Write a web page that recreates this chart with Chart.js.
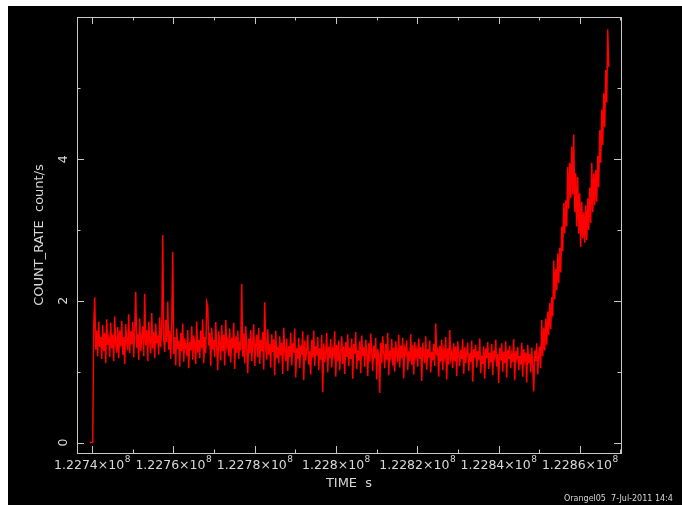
<!DOCTYPE html>
<html>
<head>
<meta charset="utf-8">
<script src="https://cdn.jsdelivr.net/npm/chart.js@4.4.1/dist/chart.umd.min.js"></script>
<style>
  html, body { margin: 0; padding: 0; background: #fff; overflow: hidden; }
  canvas { display: block; }
</style>
</head>
<body>
<canvas id="lc" width="682" height="505"></canvas>
<script>
// Light curve: one rate per time bin, bins of constant width starting at binStart
const binStart = 122739440;   // s
const binSize = 246;          // s
const countRate = [
  0, 0, 0, 0, 1.62, 2.05, 1.31, 1.58, 1.22, 1.71,
  1.35, 1.49, 1.18, 1.66, 1.29, 1.55, 1.12, 1.74, 1.38, 1.47,
  1.21, 1.69, 1.33, 1.52, 1.15, 1.78, 1.41, 1.27, 1.63, 1.19,
  1.58, 1.36, 1.72, 1.24, 1.49, 1.11, 1.67, 1.43, 1.30, 1.81,
  1.26, 1.57, 1.39, 1.70, 1.20, 1.62, 2.13, 1.34, 1.53, 1.17,
  1.75, 1.29, 1.48, 1.64, 1.22, 2.10, 1.37, 1.59, 1.15, 1.71,
  1.44, 1.26, 1.83, 1.33, 1.56, 1.19, 1.68, 1.40, 1.51, 1.24,
  1.77, 1.35, 1.62, 2.93, 1.46, 1.28, 1.73, 1.42, 1.99, 1.31,
  1.58, 1.18, 1.66, 2.69, 1.25, 1.49, 1.09, 1.61, 1.32, 1.44,
  1.07, 1.55, 1.29, 1.68, 1.14, 1.47, 1.36, 1.22, 1.59, 1.05,
  1.42, 1.30, 1.64, 1.17, 1.51, 1.38, 1.11, 1.71, 1.27, 1.45,
  1.19, 1.58, 1.33, 1.74, 1.12, 1.49, 1.26, 1.98, 1.92, 1.37,
  1.55, 1.08, 1.62, 1.31, 1.45, 1.21, 1.70, 1.35, 1.02, 1.57,
  1.40, 1.16, 1.66, 1.29, 1.52, 1.09, 1.73, 1.36, 1.44, 1.22,
  1.61, 1.13, 1.48, 1.33, 1.69, 1.04, 1.50, 1.27, 1.58, 1.18,
  1.43, 1.30, 2.24, 1.21, 1.54, 1.12, 1.64, 1.35, 0.98, 1.47,
  1.26, 1.59, 1.15, 1.41, 1.67, 1.08, 1.38, 1.52, 1.20, 1.62,
  1.11, 1.45, 1.29, 1.56, 1.03, 1.98, 1.34, 1.17, 1.60, 1.24,
  1.39, 1.06, 1.53, 1.28, 1.46, 0.95, 1.58, 1.19, 1.35, 1.12,
  1.50, 1.23, 1.41, 0.97, 1.62, 1.30, 1.15, 1.47, 1.01, 1.36,
  1.21, 1.55, 1.09, 1.40, 1.27, 1.61, 0.92, 1.33, 1.18, 1.48,
  1.05, 1.37, 1.24, 1.57, 0.88, 1.44, 1.16, 1.31, 1.52, 1.10,
  1.29, 0.96, 1.45, 1.20, 1.58, 1.08, 1.36, 1.23, 1.49, 1.02,
  1.33, 1.17, 1.52, 0.71, 1.40, 1.13, 1.27, 1.55, 0.99, 1.35,
  1.19, 1.46, 1.06, 1.31, 1.24, 1.57, 0.93, 1.38, 1.15, 1.44,
  1.02, 1.29, 1.50, 1.11, 1.36, 0.97, 1.42, 1.21, 1.53, 1.08,
  1.34, 1.18, 1.47, 0.90, 1.39, 1.25, 1.56, 1.04, 1.30, 1.16,
  1.43, 0.98, 1.51, 1.22, 1.35, 1.07, 1.45, 1.28, 0.94, 1.40,
  1.14, 1.54, 1.26, 1.01, 1.37, 1.19, 1.48, 0.89, 1.32, 1.23,
  0.70, 1.41, 1.12, 1.50, 1.27, 1.05, 1.39, 1.17, 1.55, 0.95,
  1.30, 1.21, 1.46, 1.09, 1.34, 1.00, 1.43, 1.24, 1.13, 1.52,
  1.06, 1.37, 1.19, 1.48, 0.91, 1.33, 1.26, 1.44, 1.02, 1.29,
  1.15, 1.53, 1.10, 1.38, 0.96, 1.42, 1.22, 1.31, 1.07, 1.47,
  1.18, 1.35, 0.87, 1.41, 1.25, 1.12, 1.50, 1.03, 1.32, 1.20,
  1.44, 0.99, 1.28, 1.16, 1.39, 1.08, 1.68, 1.23, 1.34, 0.93,
  1.37, 1.14, 1.45, 1.02, 1.30, 1.21, 1.49, 0.89, 1.33, 1.10,
  1.59, 1.19, 1.27, 1.05, 1.40, 1.15, 1.36, 0.94, 1.43, 1.24,
  1.08, 1.31, 1.18, 1.46, 0.97, 1.35, 1.12, 1.28, 1.41, 1.01,
  1.26, 1.14, 1.44, 0.86, 1.32, 1.20, 1.38, 1.06, 1.29, 1.17,
  1.47, 0.98, 1.23, 1.11, 1.36, 0.90, 1.33, 1.19, 1.42, 1.04,
  1.27, 1.13, 1.39, 0.95, 1.30, 1.21, 1.45, 1.07, 1.25, 0.84,
  1.34, 1.16, 1.40, 1.00, 1.28, 1.12, 1.43, 0.92, 1.31, 1.18,
  1.37, 1.05, 1.24, 1.14, 1.46, 0.88, 1.29, 1.20, 1.35, 1.02,
  1.22, 1.10, 1.41, 0.93, 1.32, 1.17, 1.27, 0.85, 1.38, 1.12,
  1.25, 0.99, 1.34, 1.08, 0.72, 1.30, 1.15, 1.40, 0.96, 1.22,
  1.36, 1.05, 1.73, 1.22, 1.62, 1.30, 1.75, 1.38, 1.85, 1.52,
  1.97, 1.60, 2.05, 1.78, 2.57, 2.02, 2.45, 2.15, 2.67, 2.25,
  2.75, 2.40, 3.05, 2.70, 3.38, 2.95, 3.42, 3.05, 3.89, 3.30,
  3.95, 3.45, 4.18, 3.50, 4.35, 3.25, 3.80, 3.05, 3.75, 2.95,
  3.52, 2.76, 3.40, 2.88, 3.25, 2.82, 3.35, 2.86, 3.45, 3.00,
  3.60, 3.10, 3.95, 3.25, 3.80, 3.35, 3.85, 3.40, 4.05, 3.60,
  4.41, 3.95, 4.70, 4.20, 4.93, 4.45, 5.26, 4.80, 5.83, 5.30
];

// Axis extents and labelled ticks
const timeMin = 122736310;
const timeMax = 122870135;
const rateMin = -0.147;
const rateMax = 6.007;
const xMajorStep = 20000;
const xMinorStep = 10000;
const yMajorStep = 2;
const yMinorStep = 1;
const xTickValues = [122740000, 122760000, 122780000, 122800000, 122820000, 122840000, 122860000];
const xTickMantissas = ['1.2274×10', '1.2276×10', '1.2278×10', '1.228×10', '1.2282×10', '1.2284×10', '1.2286×10'];
const xTickExponent = '8';
const yTickValues = [0, 2, 4];
const yTickLabels = ['0', '2', '4'];
const xTitle = 'TIME  s';
const yTitle = 'COUNT_RATE  count/s';
const stamp = 'Orangel05  7-Jul-2011 14:4';

const points = countRate.map((v, i) => ({ x: binStart + i * binSize, y: v }));

const INK = '#d8d8d8';
const FONT = '"DejaVu Sans", sans-serif';

// Black page panel, framed box with inward ticks on all four sides, labels
const framePlugin = {
  id: 'frameBox',
  beforeDraw(chart) {
    const ctx = chart.ctx;
    ctx.save();
    ctx.fillStyle = '#ffffff';
    ctx.fillRect(0, 0, chart.width, chart.height);
    ctx.fillStyle = '#000000';
    ctx.fillRect(8, 6, chart.width - 8, chart.height - 6);
    ctx.restore();
  },
  afterDraw(chart) {
    const ctx = chart.ctx;
    const a = chart.chartArea;
    const xs = chart.scales.x, ys = chart.scales.y;
    ctx.save();
    ctx.strokeStyle = '#c8c8c8';
    ctx.lineWidth = 1;
    ctx.strokeRect(Math.round(a.left) + 0.5, Math.round(a.top) + 0.5,
                   Math.round(a.right - a.left), Math.round(a.bottom - a.top));

    const major = 7, minor = 3.5;
    ctx.beginPath();
    for (let t = Math.ceil(timeMin / xMinorStep) * xMinorStep; t <= timeMax; t += xMinorStep) {
      const px = Math.round(xs.getPixelForValue(t)) + 0.5;
      const len = (t % xMajorStep === 0) ? major : minor;
      ctx.moveTo(px, a.bottom); ctx.lineTo(px, a.bottom - len);
      ctx.moveTo(px, a.top); ctx.lineTo(px, a.top + len);
    }
    for (let v = Math.ceil(rateMin / yMinorStep) * yMinorStep; v <= rateMax; v += yMinorStep) {
      const py = Math.round(ys.getPixelForValue(v)) + 0.5;
      const len = (v % yMajorStep === 0) ? major : minor;
      ctx.moveTo(a.left, py); ctx.lineTo(a.left + len, py);
      ctx.moveTo(a.right, py); ctx.lineTo(a.right - len, py);
    }
    ctx.stroke();

    ctx.fillStyle = INK;
    // x tick labels with superscript exponent
    const baseFont = '12.5px ' + FONT, supFont = '9px ' + FONT;
    ctx.textBaseline = 'middle';
    ctx.textAlign = 'left';
    xTickValues.forEach((t, i) => {
      const px = xs.getPixelForValue(t);
      ctx.font = baseFont;
      const w1 = ctx.measureText(xTickMantissas[i]).width;
      ctx.font = supFont;
      const w2 = ctx.measureText(xTickExponent).width;
      const x0 = px - (w1 + w2) / 2;
      ctx.font = baseFont;
      ctx.fillText(xTickMantissas[i], x0, 465.5);
      ctx.font = supFont;
      ctx.fillText(xTickExponent, x0 + w1 + 0.5, 459.5);
    });

    // y tick labels, written upward
    ctx.font = baseFont;
    ctx.textAlign = 'center';
    yTickValues.forEach((v, i) => {
      const py = ys.getPixelForValue(v);
      ctx.save();
      ctx.translate(64, py);
      ctx.rotate(-Math.PI / 2);
      ctx.fillText(yTickLabels[i], 0, 0);
      ctx.restore();
    });

    // axis titles
    ctx.font = '13px ' + FONT;
    ctx.fillText(xTitle, (a.left + a.right) / 2, 484);
    ctx.save();
    ctx.translate(39.5, (a.top + a.bottom) / 2);
    ctx.rotate(-Math.PI / 2);
    ctx.fillText(yTitle, 0, 0);
    ctx.restore();

    // plot stamp
    ctx.font = '8px ' + FONT;
    ctx.textAlign = 'left';
    ctx.fillText(stamp, 564, 499);
    ctx.restore();
  }
};

new Chart(document.getElementById('lc'), {
  type: 'line',
  data: {
    datasets: [{
      data: points,
      borderColor: '#ff0000',
      borderWidth: 1.5,
      pointRadius: 0,
      tension: 0,
      fill: false
    }]
  },
  options: {
    responsive: false,
    animation: false,
    devicePixelRatio: 1,
    layout: { padding: { left: 77, top: 17, right: 61, bottom: 52 } },
    plugins: { legend: { display: false }, tooltip: { enabled: false } },
    scales: {
      x: { type: 'linear', min: timeMin, max: timeMax, display: false },
      y: { type: 'linear', min: rateMin, max: rateMax, display: false }
    }
  },
  plugins: [framePlugin]
});
</script>
</body>
</html>
